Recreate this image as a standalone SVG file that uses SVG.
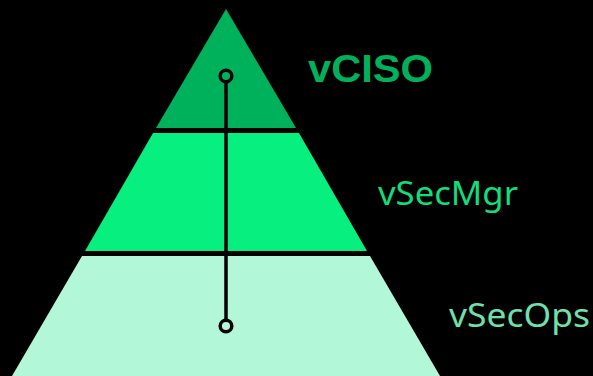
<svg xmlns="http://www.w3.org/2000/svg" width="593" height="376" viewBox="0 0 593 376">
<style>
.lbl{font-family:"Noto Sans","Open Sans","Liberation Sans",sans-serif;font-size:33px}
.conn{stroke:#000;stroke-width:3.5;fill:none}
</style>
<rect width="593" height="376" fill="#000"/>
<g id="tier-vciso">
<polygon points="226,9 296,128 156,128" fill="#00b15b"/>
<text x="308" y="82" font-family="'Liberation Sans',Arial,sans-serif" font-weight="bold" font-size="39" fill="#00b15b" textLength="125" lengthAdjust="spacingAndGlyphs">vCISO</text>
</g>
<g id="tier-vsecmgr">
<polygon points="153,133 299,133 367,251 85,251" fill="#06ef7f"/>
<text class="lbl" x="378" y="205" fill="#10dd7c" textLength="140" lengthAdjust="spacingAndGlyphs">vSecMgr</text>
</g>
<g id="tier-vsecops">
<polygon points="82,256 370,256 440,376 12,376" fill="#b3f7d9"/>
<text class="lbl" x="449" y="327" fill="#6ee0ac" textLength="141" lengthAdjust="spacingAndGlyphs">vSecOps</text>
</g>
<g id="connectors">
<line class="conn" x1="226" y1="82" x2="226" y2="320"/>
<circle class="conn" cx="226" cy="76" r="5.8" stroke-width="3"/>
<circle class="conn" cx="226" cy="326" r="5.8" stroke-width="3"/>
</g>
</svg>
